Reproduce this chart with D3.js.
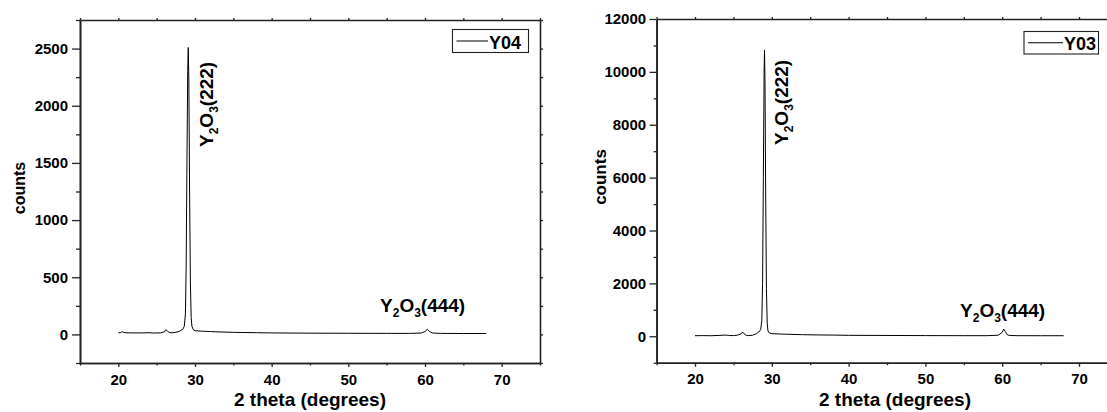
<!DOCTYPE html>
<html><head><meta charset="utf-8">
<script src="https://cdn.jsdelivr.net/npm/d3@7"></script>
<style>
body{margin:0;background:#fff}
text{font-family:"Liberation Sans",Arial,sans-serif;font-weight:bold;fill:#000}
</style>
</head><body>
<svg id="c" width="1107" height="412"></svg>
<script>
// ---- tick labels ----
const xTickValues = [20, 30, 40, 50, 60, 70];
const xMinorValues = [15, 25, 35, 45, 55, 65, 75];
const y04TickValues = [0, 500, 1000, 1500, 2000, 2500];
const y04MinorValues = [-250, 250, 750, 1250, 1750, 2250, 2750];
const y03TickValues = [0, 2000, 4000, 6000, 8000, 10000, 12000];
const y03MinorValues = [-1000, 1000, 3000, 5000, 7000, 9000, 11000];

// ---- series Y04 (left panel) ----
const y04Theta  = [20.0,20.3,20.5,20.7,21.0,22.0,23.0,24.0,24.5,25.0,25.5,26.0,26.2,26.4,26.7,27.0,27.5,28.0,28.4,28.6,28.75,28.85,28.95,29.05,29.12,29.2,29.3,29.4,29.5,29.6,29.8,30.0,31.0,32.0,33.0,35.0,38.0,40.0,45.0,50.0,55.0,58.0,59.5,60.0,60.3,60.6,61.0,62.0,65.0,68.0];
const y04Counts = [14,16,24,18,14,13,13,15,12,13,14,22,42,28,16,14,18,28,45,70,180,600,1500,2300,2510,2200,1200,450,150,70,40,32,28,25,22,18,15,13,11,10,9,9,12,25,45,25,12,9,8,8];

// ---- series Y03 (right panel) ----
const y03Theta  = [20.0,21.0,22.0,23.0,24.0,24.5,25.0,25.5,26.0,26.2,26.4,26.7,27.0,27.5,28.0,28.3,28.55,28.7,28.8,28.9,29.0,29.05,29.12,29.2,29.3,29.4,29.5,29.7,30.0,31.0,32.0,34.0,36.0,38.0,40.0,45.0,50.0,55.0,58.0,59.5,60.0,60.2,60.4,60.7,61.0,62.0,65.0,68.0];
const y03Counts = [20,25,20,30,45,30,25,40,90,160,90,30,25,40,100,160,250,600,2000,6000,10000,10830,9500,5500,1800,500,200,120,100,85,75,60,50,45,35,30,25,22,22,40,150,270,180,50,30,22,20,20];

const svg = d3.select("#c");

function panel(cfg) {
  const x = d3.scaleLinear().domain([15, 75]).range([cfg.x0, cfg.x1]);
  const y = d3.scaleLinear().domain(cfg.yDomain).range([cfg.y0, cfg.y1]);
  const g = svg.append("g");
  const axStyle = sel => {
    sel.selectAll("path.domain").attr("stroke", "#222").attr("stroke-width", 1.6);
    sel.selectAll(".tick line").attr("stroke", "#222").attr("stroke-width", 1.3);
    sel.selectAll("text").attr("font-size", 15).attr("font-weight", "bold")
       .attr("font-family", '"Liberation Sans",Arial,sans-serif').attr("fill", "#000");
  };
  // bottom
  g.append("g").attr("transform", `translate(0,${cfg.y0})`)
    .call(d3.axisBottom(x).tickValues(xMinorValues).tickSize(2.5).tickFormat("").tickSizeOuter(0)).call(axStyle);
  g.append("g").attr("transform", `translate(0,${cfg.y0})`)
    .call(d3.axisBottom(x).tickValues(xTickValues).tickSize(4).tickPadding(7).tickSizeOuter(0)).call(axStyle);
  // top
  g.append("g").attr("transform", `translate(0,${cfg.y1})`)
    .call(d3.axisTop(x).tickValues(xTickValues.concat(xMinorValues)).tickSize(2).tickFormat("").tickSizeOuter(0)).call(axStyle);
  // left
  g.append("g").attr("transform", `translate(${cfg.x0},0)`)
    .call(d3.axisLeft(y).tickValues(cfg.yMinor).tickSize(cfg.minorLen).tickFormat("").tickSizeOuter(0)).call(axStyle);
  g.append("g").attr("transform", `translate(${cfg.x0},0)`)
    .call(d3.axisLeft(y).tickValues(cfg.yTicks).tickSize(cfg.majorLen).tickPadding(cfg.pad).tickFormat(d3.format("d")).tickSizeOuter(0)).call(axStyle);
  // right
  g.append("g").attr("transform", `translate(${cfg.x1},0)`)
    .call(d3.axisRight(y).tickValues(cfg.yTicks.concat(cfg.yMinor)).tickSize(3).tickFormat("").tickSizeOuter(0)).call(axStyle);

  // data line
  const pts = cfg.theta.map((t, i) => [t, cfg.counts[i]]);
  g.append("path").datum(pts)
    .attr("fill", "none").attr("stroke", "#000").attr("stroke-width", 1)
    .attr("d", d3.line().x(d => x(d[0])).y(d => y(d[1])));

  // axis titles
  g.append("text").attr("x", cfg.xtX).attr("y", 406).attr("text-anchor", "middle")
    .attr("font-size", 19).text("2 theta (degrees)");
  g.append("text").attr("transform", `translate(${cfg.ytX},${cfg.ytY}) rotate(-90)`)
    .attr("text-anchor", "middle").attr("font-size", cfg.ytSize).text("counts");

  // legend
  const L = cfg.legend;
  g.append("rect").attr("x", L.x).attr("y", L.y).attr("width", L.w).attr("height", L.h)
    .attr("fill", "#fff").attr("stroke", "#222").attr("stroke-width", 1.1);
  g.append("line").attr("x1", L.x + 4).attr("x2", L.lx2).attr("y1", L.y + L.h / 2).attr("y2", L.y + L.h / 2)
    .attr("stroke", "#000").attr("stroke-width", 1);
  g.append("text").attr("x", L.lx2 + 1).attr("y", L.y + L.h - 4).attr("font-size", 18).text(cfg.name);

  // peak labels
  const lab = (sel, num) => {
    sel.append("tspan").text("Y");
    sel.append("tspan").attr("font-size", 12).attr("dy", 5).text("2");
    sel.append("tspan").attr("dy", -5).text("O");
    sel.append("tspan").attr("font-size", 12).attr("dy", 5).text("3");
    sel.append("tspan").attr("dy", -5).text("(" + num + ")");
  };
  g.append("text").attr("transform", `translate(${cfg.p1x},${cfg.p1y}) rotate(-90)`)
    .attr("font-size", 19).call(lab, "222");
  g.append("text").attr("x", cfg.p2x).attr("y", cfg.p2y).attr("font-size", 19).call(lab, "444");
}

panel({
  x0: 80, x1: 540, y0: 363, y1: 20, yDomain: [-250, 2750],
  yTicks: y04TickValues, yMinor: y04MinorValues, majorLen: 8, minorLen: 4, pad: 4,
  theta: y04Theta, counts: y04Counts, name: "Y04",
  xtX: 310, ytX: 25, ytY: 188, ytSize: 16,
  legend: { x: 452.5, y: 29.5, w: 76, h: 23, lx2: 488 },
  p1x: 213, p1y: 147, p2x: 380, p2y: 312
});
panel({
  x0: 656.6, x1: 1117.4, y0: 362.7, y1: 19, yDomain: [-1000, 12000],
  yTicks: y03TickValues, yMinor: y03MinorValues, majorLen: 7, minorLen: 3, pad: 3.5,
  theta: y03Theta, counts: y03Counts, name: "Y03",
  xtX: 895, ytX: 606, ytY: 177, ytSize: 17,
  legend: { x: 1024, y: 31.5, w: 74.5, h: 22.5, lx2: 1063 },
  p1x: 788, p1y: 145, p2x: 960, p2y: 316.5
});
</script>
</body></html>
